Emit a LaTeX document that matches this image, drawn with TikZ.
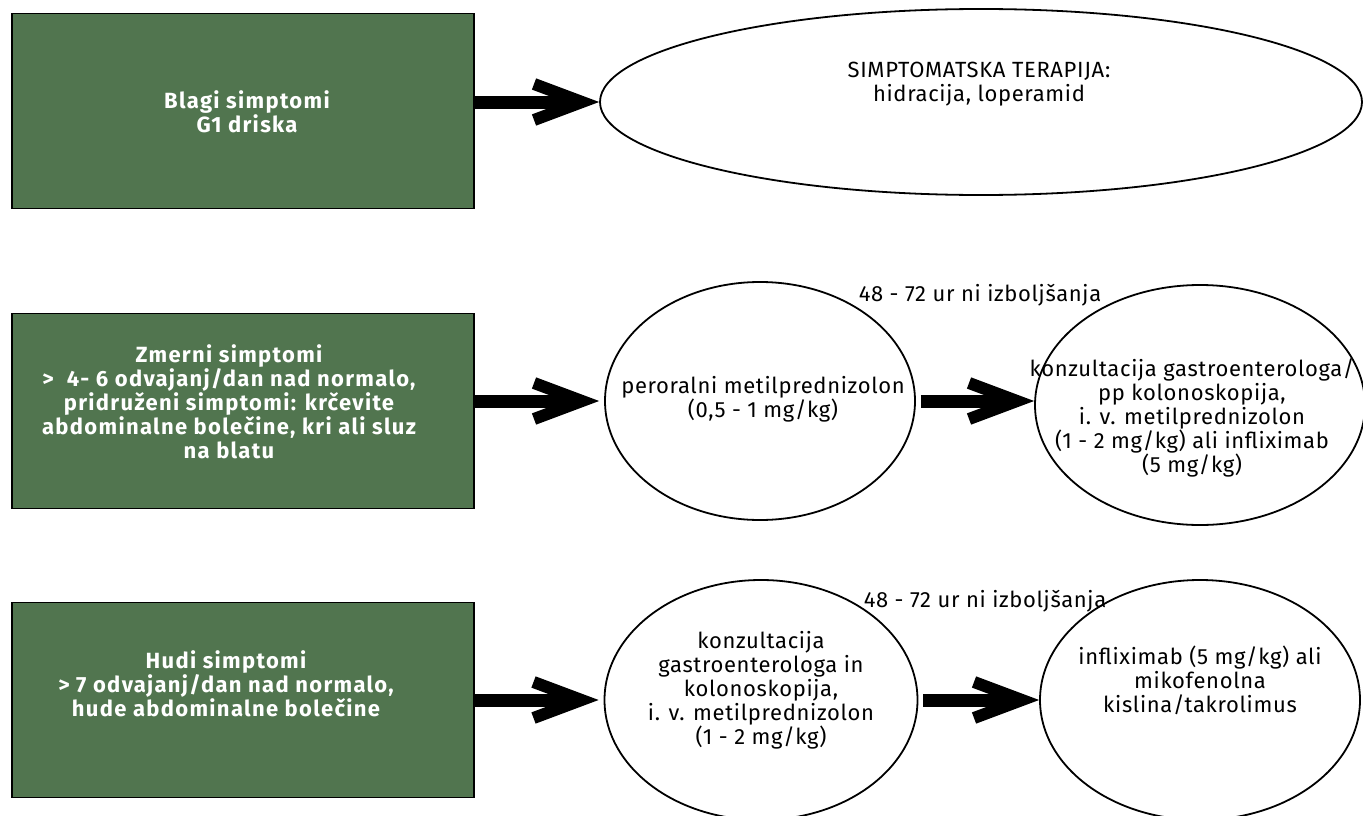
\documentclass[tikz,border=0pt]{standalone}
\usepackage{fontspec}
\setmainfont{Fira Sans}[LetterSpace=3]
\newfontfamily\boxfont{Fira Sans}[LetterSpace=6]
\usetikzlibrary{shapes.geometric,arrows.meta}
\definecolor{boxgreen}{RGB}{81,117,79}
\tikzset{
  symbox/.style={draw=black, line width=1.5pt, fill=boxgreen, minimum width=462pt, minimum height=195pt, inner sep=0pt},
  therapy/.style={draw=black, line width=1.8pt, ellipse, inner sep=0pt},
  boxtext/.style={align=center, text=white, font=\fontsize{22}{24}\boxfont\bfseries},
  plaintext/.style={align=center, font=\fontsize{22}{24}\selectfont},
  bigarrow/.style={line width=13pt, -{Straight Barb[length=48pt,width=36pt,line width=12pt]}}
}
\begin{document}
\begin{tikzpicture}[x=1pt,y=-1pt]
    \useasboundingbox (0,0) rectangle (1363,816);

    % Mild symptoms
    \node[symbox] (b1) at (243,111) {};
    \node[boxtext] (bt1) at (247,112) {Blagi simptomi\\G1 driska};
    \node[therapy, minimum width=762pt, minimum height=186pt] (e1) at (981,102) {};
    \node[plaintext] (et1) at (979,84) {SIMPTOMATSKA TERAPIJA:\\hidracija, loperamid};
    \draw[bigarrow] (b1.east |- e1.west) -- (e1.west);

    % Moderate symptoms
    \node[symbox] (b2) at (243,411) {};
    \node[boxtext] (bt2) at (229,402) {Zmerni simptomi\\> \ 4- 6 odvajanj/dan nad normalo,\\pridruženi simptomi: krčevite\\abdominalne bolečine, kri ali sluz\\na blatu};
    \node[therapy, minimum width=310pt, minimum height=238pt] (c21) at (760,401) {};
    \node[plaintext] (ct21) at (763,399) {peroralni metilprednizolon\\(0,5 - 1 mg/kg)};
    \node[therapy, minimum width=330pt, minimum height=240pt] (c22) at (1200,405) {};
    \node[plaintext] (ct22) at (1192,418) {konzultacija gastroenterologa/\\pp kolonoskopija,\\i. v. metilprednizolon\\(1 - 2 mg/kg) ali infliximab\\(5 mg/kg)};
    \node[plaintext] (w2) at (980,295) {48 - 72 ur ni izboljšanja};
    \draw[bigarrow] (b2.east |- c21.west) -- ([xshift=-5pt]c21.west);
    \draw[bigarrow] ([xshift=5pt]c21.east) -- (c22.west |- c21.east);

    % Severe symptoms
    \node[symbox] (b3) at (243,700) {};
    \node[boxtext] (bt3) at (226,684) {Hudi simptomi\\> 7 odvajanj/dan nad normalo,\\hude abdominalne bolečine};
    \node[therapy, minimum width=313pt, minimum height=240pt] (c31) at (761,700) {};
    \node[plaintext] (ct31) at (761,690) {konzultacija\\gastroenterologa in\\kolonoskopija,\\i. v. metilprednizolon\\(1 - 2 mg/kg)};
    \node[therapy, minimum width=320pt, minimum height=240pt] (c32) at (1200,700) {};
    \node[plaintext] (ct32) at (1200,680) {infliximab (5 mg/kg) ali\\mikofenolna\\kislina/takrolimus};
    \node[plaintext] (w3) at (985,601) {48 - 72 ur ni izboljšanja};
    \draw[bigarrow] (b3.east |- c31.west) -- ([xshift=-5pt]c31.west);
    \draw[bigarrow] ([xshift=5pt]c31.east) -- (c32.west);

\end{tikzpicture}
\end{document}
